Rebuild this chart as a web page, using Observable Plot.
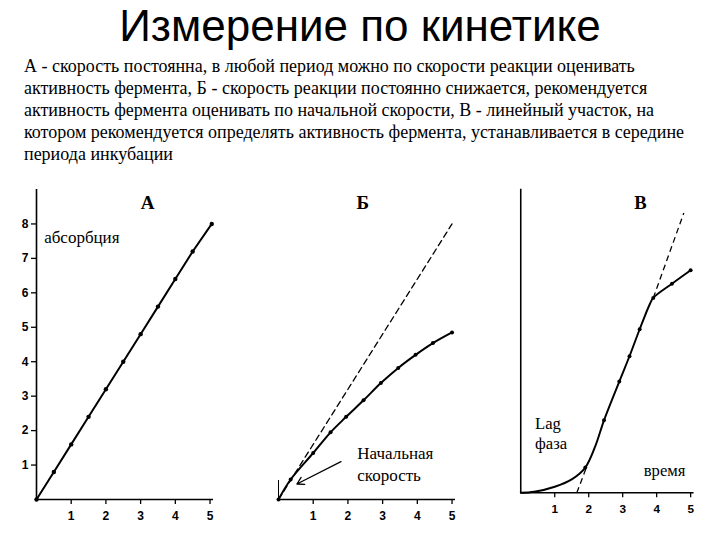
<!DOCTYPE html>
<html><head><meta charset="utf-8">
<script src="https://cdn.jsdelivr.net/npm/d3@7"></script>
<script src="https://cdn.jsdelivr.net/npm/@observablehq/plot@0.6"></script>
<style>
html,body{margin:0;padding:0;background:#fff;width:720px;height:540px;overflow:hidden;}
#title{position:absolute;left:0;top:4px;width:720px;text-align:center;font-family:"Liberation Sans",Arial,sans-serif;font-size:44px;line-height:44px;color:#000;}
#para{position:absolute;left:24px;top:55px;width:690px;font-family:"Liberation Serif","Times New Roman",serif;font-size:18px;line-height:22px;color:#000;white-space:nowrap;}
.panel{position:absolute;top:180px;}
</style></head>
<body>
<div id="title"></div>
<div id="para"></div>
<div id="pA" class="panel" style="left:0px"></div>
<div id="pB" class="panel" style="left:242px"></div>
<div id="pC" class="panel" style="left:485px"></div>
<script>
// ---- text ----
const titleText = "Измерение по кинетике";
const paraLines = [
  "А - скорость постоянна, в любой период можно по скорости реакции оценивать",
  "активность фермента, Б - скорость реакции постоянно снижается, рекомендуется",
  "активность фермента оценивать по начальной скорости, В - линейный участок, на",
  "котором рекомендуется определять активность фермента, устанавливается в середине",
  "периода инкубации"
];
// ---- data ----
const ticksX = [1, 2, 3, 4, 5];
const ticksYA = [1, 2, 3, 4, 5, 6, 7, 8];
// Panel A: constant rate
const xA = [0, 0.5, 1, 1.5, 2, 2.5, 3, 3.5, 4, 4.5, 5.05];
const yA = [0, 0.8, 1.6, 2.4, 3.2, 4.0, 4.8, 5.6, 6.4, 7.2, 8.0];
// Panel Б: decreasing rate
const xB = [0, 0.35, 1, 1.5, 1.95, 2.45, 2.95, 3.45, 3.95, 4.45, 5];
const yB = [0, 0.58, 1.35, 1.95, 2.4, 2.88, 3.38, 3.82, 4.2, 4.54, 4.85];
const dashBx = [0, 5];
const dashBy = [0, 8];
// Panel В: lag phase
const xC = [0, 0.4, 1, 1.5, 1.9, 2.2, 2.45, 2.9, 3.2, 3.5, 3.8, 3.9, 4.45, 5];
const yC = [0, 0.03, 0.18, 0.4, 0.75, 1.4, 2.15, 3.3, 4.05, 4.85, 5.6, 5.78, 6.2, 6.6];
const dotC = [false, false, false, false, true, false, true, true, true, true, false, true, true, true];
const dashCx1 = [1.65, 3.9];
const dashCy1 = [0, 5.78];
const dashCx2 = [1.92, 4.8];
const dashCy2 = [0.72, 8.3];
// labels
const panelNames = ["А", "Б", "В"];

document.getElementById("title").textContent = titleText;
document.getElementById("para").innerHTML = paraLines.join("<br>");

const toPts = (xs, ys) => xs.map((x, i) => ({x, y: ys[i]}));
const SANS = "Liberation Sans, Arial, sans-serif";
const SERIF = "Liberation Serif, Times New Roman, serif";

function base(marks) {
  return Plot.plot({
    width: 240, height: 350,
    marginLeft: 36, marginRight: 27, marginTop: 9, marginBottom: 31,
    x: {domain: [0, 5.1], axis: null},
    y: {domain: [0, 9], axis: null},
    style: {background: "transparent", color: "#000"},
    marks
  });
}
const xAxisMarks = [
  Plot.ruleY([0], {stroke: "#000", strokeWidth: 1.6}),
  Plot.axisX({ticks: ticksX, tickFormat: d => String(d), label: null, tickSize: 5, tickPadding: 7, fontSize: 12, fontWeight: "bold", fontFamily: SANS, stroke: "#000", strokeWidth: 1.3, color: "#000"})
];
function panelLabel(x, name) {
  return Plot.text([{x, y: 8.6, t: name}], {x: "x", y: "y", text: "t", fontFamily: SERIF, fontSize: 19, fontWeight: "bold", fill: "#000"});
}

// Panel A
const ptsA = toPts(xA, yA);
document.getElementById("pA").append(base([
  ...xAxisMarks,
  Plot.ruleX([0], {stroke: "#000", strokeWidth: 1.6}),
  Plot.axisY({ticks: ticksYA, tickFormat: d => String(d), label: null, tickSize: 5, tickPadding: 3, fontSize: 12, fontWeight: "bold", fontFamily: SANS, stroke: "#000", strokeWidth: 1.3, color: "#000"}),
  Plot.line(ptsA, {x: "x", y: "y", stroke: "#000", strokeWidth: 2}),
  Plot.dot(ptsA, {x: "x", y: "y", r: 2.2, fill: "#000"}),
  Plot.text([{x: 0.22, y: 7.6, t: "абсорбция"}], {x: "x", y: "y", text: "t", textAnchor: "start", fontFamily: SERIF, fontSize: 17, fill: "#000"}),
  panelLabel(3.2, panelNames[0])
]));

// Panel Б
const ptsB = toPts(xB, yB);
document.getElementById("pB").append(base([
  ...xAxisMarks,
  Plot.ruleX([0], {y1: 0, y2: 0.55, stroke: "#000", strokeWidth: 1}),
  Plot.line(toPts(dashBx, dashBy), {x: "x", y: "y", stroke: "#000", strokeWidth: 1.3, strokeDasharray: "6,4"}),
  Plot.line(ptsB, {x: "x", y: "y", stroke: "#000", strokeWidth: 2, curve: "catmull-rom"}),
  Plot.dot(ptsB, {x: "x", y: "y", r: 2, fill: "#000"}),
  Plot.arrow([{x1: 1.8, y1: 1.1, x2: 0.53, y2: 0.45}], {x1: "x1", y1: "y1", x2: "x2", y2: "y2", stroke: "#000", strokeWidth: 1.3, headLength: 9}),
  Plot.text([{x: 2.27, y: 1.33, t: "Начальная"}, {x: 2.27, y: 0.7, t: "скорость"}], {x: "x", y: "y", text: "t", textAnchor: "start", fontFamily: SERIF, fontSize: 17, fill: "#000"}),
  panelLabel(2.43, panelNames[1])
]));

// Panel В
const ptsC = toPts(xC, yC);
const segC = dashCx1.map((x1, i) => ({x1, y1: dashCy1[i], x2: dashCx2[i], y2: dashCy2[i]}));
document.getElementById("pC").append(base([
  ...xAxisMarks,
  Plot.ruleX([0], {stroke: "#000", strokeWidth: 1.6}),
  Plot.link(segC, {x1: "x1", y1: "y1", x2: "x2", y2: "y2", stroke: "#000", strokeWidth: 1.3, strokeDasharray: "6,4"}),
  Plot.line(ptsC, {x: "x", y: "y", stroke: "#000", strokeWidth: 2, curve: "catmull-rom"}),
  Plot.dot(ptsC.filter((d, i) => dotC[i]), {x: "x", y: "y", r: 2, fill: "#000"}),
  Plot.text([{x: 0.42, y: 2.06, t: "Lag"}, {x: 0.42, y: 1.45, t: "фаза"}], {x: "x", y: "y", text: "t", textAnchor: "start", fontFamily: SERIF, fontSize: 17, fill: "#000"}),
  Plot.text([{x: 3.62, y: 0.66, t: "время"}], {x: "x", y: "y", text: "t", textAnchor: "start", fontFamily: SERIF, fontSize: 17, fill: "#000"}),
  panelLabel(3.52, panelNames[2])
]));
</script>
</body></html>
